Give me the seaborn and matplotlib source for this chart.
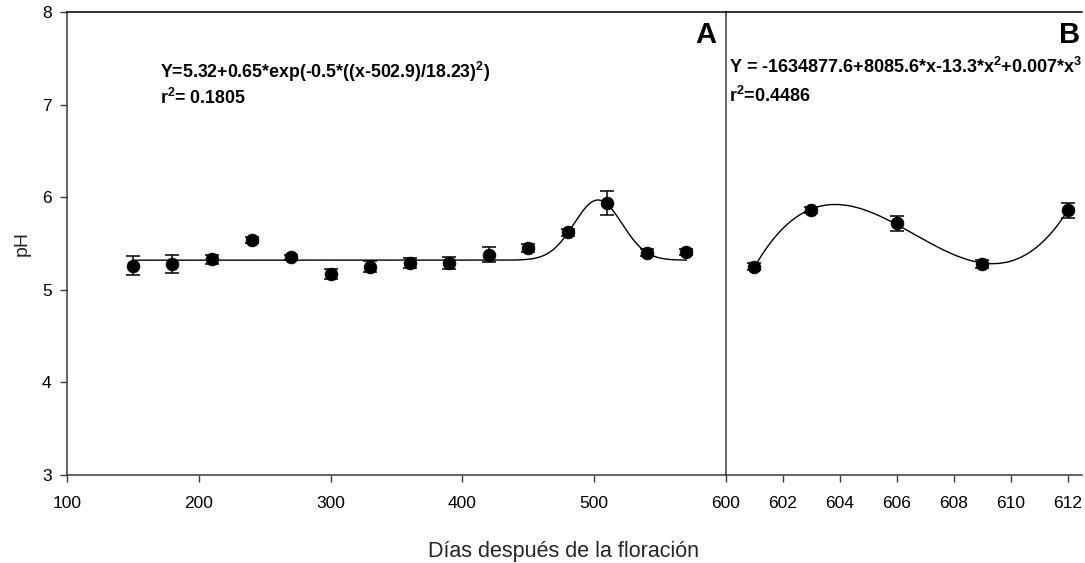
import numpy as np
import pandas as pd
import matplotlib
matplotlib.use("Agg")
import matplotlib.pyplot as plt
import seaborn as sns

# Panel A: days after flowering, mean pH and standard error
days_a = [150, 180, 210, 240, 270, 300, 330, 360, 390, 420, 450, 480, 510, 540, 570]
ph_a = [5.26, 5.28, 5.33, 5.54, 5.35, 5.17, 5.25, 5.29, 5.29, 5.38, 5.45, 5.62, 5.94, 5.40, 5.41]
err_a = [0.10, 0.095, 0.05, 0.03, 0.03, 0.05, 0.06, 0.05, 0.06, 0.08, 0.04, 0.04, 0.13, 0.04, 0.03]

# Panel B
days_b = [601, 603, 606, 609, 612]
ph_b = [5.25, 5.86, 5.72, 5.28, 5.86]
err_b = [0.04, 0.03, 0.08, 0.04, 0.08]

# Gaussian fit of panel A
g_base, g_amp, g_center, g_width = 5.32, 0.65, 502.9, 18.23

eq_a = r"Y=5.32+0.65*exp(-0.5*((x-502.9)/18.23)$^{2}$)"
r2_a = r"r$^{2}$= 0.1805"
eq_b = r"Y = -1634877.6+8085.6*x-13.3*x$^{2}$+0.007*x$^{3}$"
r2_b = r"r$^{2}$=0.4486"

ticks_a = [100, 200, 300, 400, 500, 600]
ticks_b = [602, 604, 606, 608, 610, 612]
ticks_y = [3, 4, 5, 6, 7, 8]

sns.set_style("ticks")
plt.rcParams["font.family"] = ["Liberation Sans", "DejaVu Sans"]
plt.rcParams["mathtext.fontset"] = "custom"
plt.rcParams["mathtext.rm"] = "Liberation Sans:bold"
plt.rcParams["mathtext.bf"] = "Liberation Sans:bold"
plt.rcParams["mathtext.default"] = "rm"

W, H = 1085, 563
fig = plt.figure(figsize=(W / 100, H / 100), dpi=100)
left, right, top, bottom, split = 67, 1082, 12, 475, 726
ax1 = fig.add_axes([left / W, 1 - bottom / H, (split - left) / W, (bottom - top) / H])
ax2 = fig.add_axes([split / W, 1 - bottom / H, (right - split) / W, (bottom - top) / H])

df_a = pd.DataFrame({"dias": days_a, "ph": ph_a, "err": err_a})
df_b = pd.DataFrame({"dias": days_b, "ph": ph_b, "err": err_b})

# fitted curves
xa = np.linspace(min(days_a), max(days_a), 600)
ya = g_base + g_amp * np.exp(-0.5 * ((xa - g_center) / g_width) ** 2)
coef_b = np.polyfit(np.array(days_b) - 606, ph_b, 3)
xb = np.linspace(min(days_b), max(days_b), 400)
yb = np.polyval(coef_b, xb - 606)

axis_col = "#3a3a3a"
for ax, df, xc, yc in ((ax1, df_a, xa, ya), (ax2, df_b, xb, yb)):
    sns.lineplot(x=xc, y=yc, ax=ax, color="black", lw=1.0, zorder=2)
    ax.errorbar(df["dias"], df["ph"], yerr=df["err"], fmt="none", ecolor="black",
                elinewidth=1.1, capsize=5, capthick=1.1, zorder=3)
    sns.scatterplot(data=df, x="dias", y="ph", ax=ax, color="black", s=85,
                    edgecolor="black", linewidth=0.5, zorder=4, legend=False)
    ax.set_ylim(3, 8)
    ax.set_xlabel("")
    ax.set_ylabel("")
    ax.patch.set_alpha(0)
    for s in ax.spines.values():
        s.set_color(axis_col)
        s.set_linewidth(1.1)
    ax.spines["top"].set_color("black")
    ax.tick_params(axis="both", direction="out", length=5, width=1.0,
                   color=axis_col, labelsize=12.5, labelcolor="black", pad=6)

ax1.set_xlim(100, 600)
ax1.set_xticks(ticks_a)
ax1.set_yticks(ticks_y)
ax1.spines["right"].set_visible(False)
ax1.tick_params(axis="x", pad=10)

# the left spine of panel B is the divider between the two panels
ax2.set_xlim(600, 612.5)
ax2.set_xticks(ticks_b)
ax2.set_yticks([])
ax2.spines["left"].set_visible(True)
ax2.spines["right"].set_visible(False)
ax2.tick_params(axis="x", pad=10)

bold = dict(fontweight="bold", color="black")
fig.text(160 / W, 1 - 72 / H, eq_a, fontsize=12.8, va="center", ha="left", **bold)
fig.text(160 / W, 1 - 98 / H, r2_a, fontsize=12.8, va="center", ha="left", **bold)
fig.text(716 / W, 1 - 35 / H, "A", fontsize=21, va="center", ha="right", **bold)
fig.text(1080 / W, 1 - 35 / H, "B", fontsize=21, va="center", ha="right", **bold)
fig.text(729 / W, 1 - 67 / H, eq_b, fontsize=13, va="center", ha="left", **bold)
fig.text(729 / W, 1 - 96 / H, r2_b, fontsize=13, va="center", ha="left", **bold)

fig.text(563 / W, 1 - 552 / H, "Días después de la floración", fontsize=15.5,
         ha="center", va="center")
fig.text(22 / W, 1 - 244 / H, "pH", fontsize=14, rotation=90, ha="center", va="center")

fig.savefig("out.png", dpi=100, facecolor="white")
